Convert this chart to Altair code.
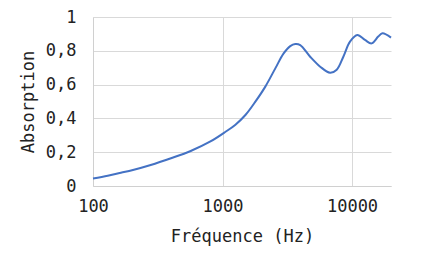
import altair as alt
import pandas as pd

freqs = [100, 130, 164, 200, 279, 400, 568, 800, 1055, 1259, 1503, 1794, 2141,
         2557, 2965, 3335, 3645, 3981, 4750, 5680, 6770, 7620, 8570, 9650, 10990,
         12590, 14170, 15930, 17180, 20000]
absorption = [0.045, 0.061, 0.079, 0.093, 0.124, 0.164, 0.207, 0.262, 0.321,
              0.363, 0.42, 0.499, 0.588, 0.696, 0.785, 0.828, 0.84, 0.834, 0.765,
              0.706, 0.67, 0.688, 0.765, 0.854, 0.893, 0.864, 0.844, 0.884, 0.904, 0.878]
x_ticks = [100, 1000, 10000]
y_ticks = [0, 0.2, 0.4, 0.6, 0.8, 1]

df = pd.DataFrame({"f": freqs, "a": absorption})
FONT = "DejaVu Sans Mono"

chart = alt.Chart(df).mark_line(color="#4472C4", strokeWidth=2, interpolate="catmull-rom").encode(
    x=alt.X("f:Q", scale=alt.Scale(type="log", domain=[100, 20000], nice=False),
            axis=alt.Axis(values=x_ticks, format="d", title="Fréquence (Hz)",
                          ticks=False, labelPadding=12, labelFlush=False,
                          domainColor="#d0d0d0", gridColor="#d9d9d9",
                          labelFont=FONT, titleFont=FONT, labelFontSize=17, titleFontSize=17,
                          titleFontWeight="normal", labelColor="#222", titleColor="#222",
                          titleBaseline="alphabetic", titleY=55)),
    y=alt.Y("a:Q", scale=alt.Scale(domain=[0, 1], nice=False),
            axis=alt.Axis(values=y_ticks, title="Absorption", ticks=False, labelPadding=17,
                          labelExpr="replace(format(datum.value, '.1~f'), '.', ',')",
                          domainColor="#d0d0d0", gridColor="#d9d9d9",
                          labelFont=FONT, titleFont=FONT, labelFontSize=17, titleFontSize=17,
                          titleFontWeight="normal", labelColor="#222", titleColor="#222",
                          titleBaseline="middle", titleX=-65)),
).properties(
    width=298, height=169,
    autosize=alt.AutoSizeParams(type="none"),
    padding={"left": 93, "top": 17, "right": 43, "bottom": 77},
).configure_view(stroke=None)

chart.save("out.html", embed_options={"renderer": "svg", "actions": False})
